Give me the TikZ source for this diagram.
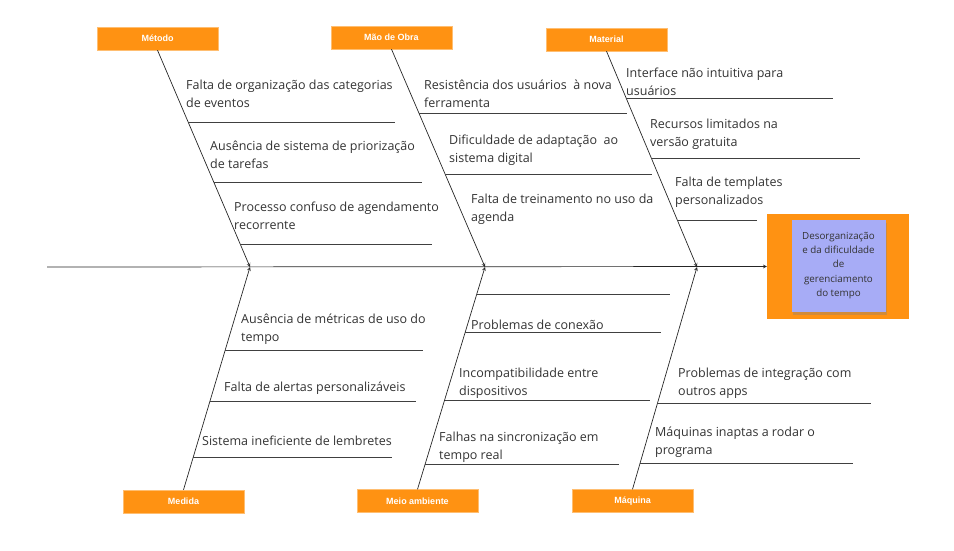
\documentclass[tikz,border=0pt]{standalone}
\usepackage{fontspec}
\setmainfont{Open Sans}
\newfontfamily\rotulo{Liberation Sans}
\usetikzlibrary{shadows}

\definecolor{laranja}{RGB}{255,146,18}
\definecolor{lilas}{RGB}{167,172,246}
\definecolor{tinta}{RGB}{51,51,51}

\tikzset{
  categoria/.style={fill=laranja, draw=laranja!60, line width=0.4pt, text=white,
    font=\rotulo\bfseries\fontsize{9}{10}\selectfont,
    minimum width=121, minimum height=23, inner sep=0pt},
  causa/.style={anchor=base west, align=left, inner sep=0pt, text=tinta,
    font=\fontsize{12.5}{18}\selectfont},
  espinha/.style={->, line width=0.7pt, black!85},
  costela/.style={line width=0.7pt, black!75},
}

\begin{document}
\begin{tikzpicture}[>=stealth, x=1pt, y=-1pt]
  \useasboundingbox (0,0) rectangle (954,550);
  % ---------------------------------------------------------------- the effect
  \node[fill=laranja, minimum width=142, minimum height=105, inner sep=0pt] (efeito) at (838,266.5) {};
  \node[fill=lilas, minimum width=94, minimum height=92, inner sep=0pt, text=tinta,
        align=center, font=\fontsize{9.8}{14.2}\selectfont,
        drop shadow={shadow xshift=1pt, shadow yshift=-3pt, opacity=0.35}]
        (nota) at (838.5,265.5) {Desorganização\\e da dificuldade\\de\\gerenciamento\\do tempo};
  % ---------------------------------------------------------------- the spine and the junctions
  \coordinate (cauda) at (47,267);
  \coordinate (jmet) at (250,267);
  \coordinate (jmao) at (485,267);
  \coordinate (jmat) at (697,267);
  \draw[espinha] (cauda) -- (efeito.west);
  % ---------------------------------------------------------------- the six categories
  \node[categoria] (metodo)   at (157.5,38.5)  {Método};
  \node[categoria] (maoobra)  at (391.5,37.5)  {Mão de Obra};
  \node[categoria] (material) at (606.5,39.5)  {Material};
  \node[categoria] (medida)   at (183.5,501.5) {Medida};
  \node[categoria] (meio)     at (417.5,501)   {Meio ambiente};
  \node[categoria] (maquina)  at (632.5,501)   {Máquina};
  \draw[espinha] (metodo.south) -- (jmet);
  \draw[espinha] (maoobra.south) -- (jmao);
  \draw[espinha] (material.south) -- (jmat);
  \draw[espinha] (medida.north) -- (jmet);
  \draw[espinha] (meio.north) -- (jmao);
  \draw[espinha] (maquina.north) -- (jmat);
  % ---------------------------------------------------------------- ribs: y / on the bone / free end
  \foreach \y/\xa/\xb in {122/188/395, 182/214/422, 244/240/432,
                          113/419/627, 174/445/652,
                          98/626/833, 158/651/860, 220/677/757,
                          350/225/423, 401/210/416, 457/193/392,
                          294/477/670, 332/465/661, 400/445/650, 464/425/619,
                          403/658/871, 463/640/853}
    \draw[costela] (\xa,\y) -- (\xb,\y);
  % ---------------------------------------------------------------- causes (base = last line)
  \node[causa] (met1) at (186,107) {Falta de organização das categorias\\de eventos};
  \node[causa] (met2) at (210,168) {Ausência de sistema de priorização\\de tarefas};
  \node[causa] (met3) at (234,229) {Processo confuso de agendamento\\recorrente};
  \node[causa] (mao1) at (424,107) {Resistência dos usuários \ à nova\\ferramenta};
  \node[causa] (mao2) at (449,162) {Dificuldade de adaptação \ ao\\sistema digital};
  \node[causa] (mao3) at (471,221) {Falta de treinamento no uso da\\agenda};
  \node[causa] (mat1) at (626,95)  {Interface não intuitiva para\\usuários};
  \node[causa] (mat2) at (650,146) {Recursos limitados na\\versão gratuita};
  \node[causa] (mat3) at (675,204) {Falta de templates\\personalizados};
  \node[causa] (med1) at (241,341) {Ausência de métricas de uso do\\tempo};
  \node[causa] (med2) at (224,391) {Falta de alertas personalizáveis};
  \node[causa] (med3) at (202,445) {Sistema ineficiente de lembretes};
  \node[causa] (amb1) at (471,329) {Problemas de conexão};
  \node[causa] (amb2) at (459,395) {Incompatibilidade entre\\dispositivos};
  \node[causa] (amb3) at (439,459) {Falhas na sincronização em\\tempo real};
  \node[causa] (maq1) at (678,395) {Problemas de integração com\\outros apps};
  \node[causa] (maq2) at (655,454) {Máquinas inaptas a rodar o\\programa};
\end{tikzpicture}
\end{document}
